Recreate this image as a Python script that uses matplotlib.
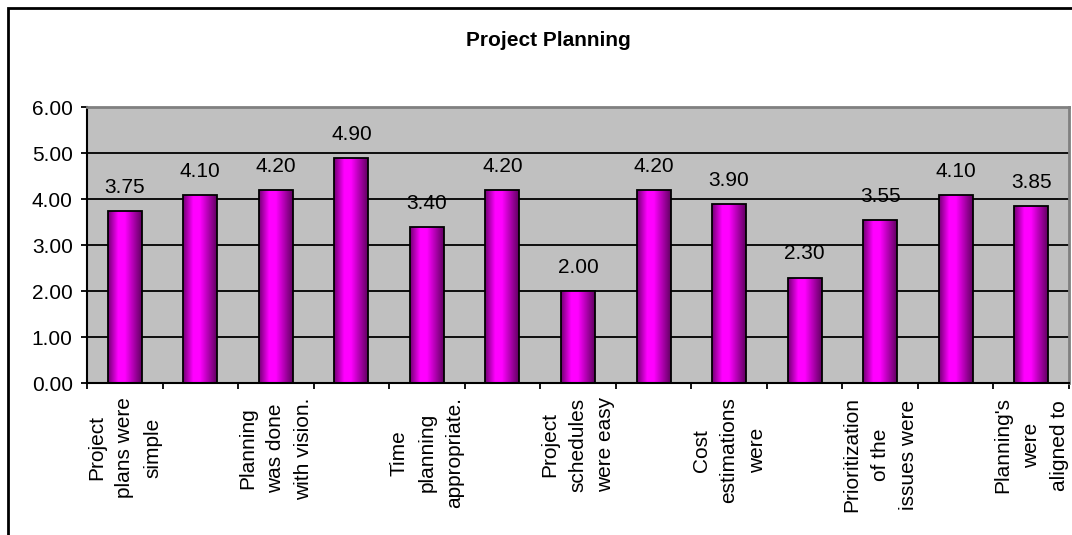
import matplotlib
matplotlib.use('Agg')
import matplotlib.pyplot as plt
import numpy as np
from matplotlib.colors import LinearSegmentedColormap
from matplotlib.patches import Rectangle
from matplotlib.ticker import NullFormatter

title = "Project Planning"
values = [3.75, 4.10, 4.20, 4.90, 3.40, 4.20, 2.00, 4.20, 3.90, 2.30, 3.55, 4.10, 3.85]
shown_labels = [
    "Project\nplans were\nsimple",
    "Planning\nwas done\nwith vision.",
    "Time\nplanning\nappropriate.",
    "Project\nschedules\nwere easy",
    "Cost\nestimations\nwere",
    "Prioritization\nof the\nissues were",
    "Planning's\nwere\naligned to",
]
y_ticks = [0, 1, 2, 3, 4, 5, 6]

plt.rcParams['font.family'] = ['Liberation Sans', 'DejaVu Sans']

W, H = 1072, 535
fig = plt.figure(figsize=(W / 100, H / 100), dpi=100)
fig.patch.set_facecolor('white')

ax_left, ax_right, ax_top, ax_bottom = 87, 1069, 107.3, 383.3
ax = fig.add_axes([ax_left / W, (H - ax_bottom) / H, (ax_right - ax_left) / W, (ax_bottom - ax_top) / H])
ax.set_facecolor('#c0c0c0')

x = np.arange(len(values))
bars = ax.bar(x, values, width=0.45, color='none', edgecolor='black', linewidth=1.3, zorder=3)

cmap = LinearSegmentedColormap.from_list(
    'bar', [(0.0, '#700070'), (0.3, '#ff00ff'), (0.5, '#ff00ff'), (1.0, '#600060')])
grad = np.linspace(0, 1, 256).reshape(1, -1)
for b in bars:
    im = ax.imshow(grad, cmap=cmap, aspect='auto', interpolation='bilinear',
                   extent=(b.get_x(), b.get_x() + b.get_width(), 0, b.get_height()), zorder=2.5)
    im.set_clip_path(b)

for b, v in zip(bars, values):
    ax.annotate(f'{v:.2f}', (b.get_x() + b.get_width() / 2, v), xytext=(0, 13),
                textcoords='offset points', ha='center', va='baseline', fontsize=15, color='black')

ax.set_xlim(-0.5, len(values) - 0.5)
ax.set_ylim(0, 6)
ax.set_yticks(y_ticks, labels=[f'{v:.2f}' for v in y_ticks])
ax.yaxis.grid(True, color='black', linewidth=1.3)
ax.set_axisbelow(True)

ax.set_xticks(np.arange(-0.5, len(values), 1))
ax.xaxis.set_major_formatter(NullFormatter())
ax.set_xticks(x[::2], labels=shown_labels, minor=True, rotation=90,
              multialignment='center', linespacing=1.6, fontsize=15)

ax.tick_params(axis='x', which='major', length=4.3, width=1.3, direction='out', color='black')
ax.tick_params(axis='x', which='minor', length=0, pad=10)
ax.tick_params(axis='y', length=4.3, width=1.3, direction='out', labelsize=15, pad=6)

for s in ['left', 'bottom']:
    ax.spines[s].set_color('black')
    ax.spines[s].set_linewidth(1.5)
for s in ['top', 'right']:
    ax.spines[s].set_color('#808080')
    ax.spines[s].set_linewidth(2)

fig.text(548 / W, 1 - 40 / H, title, ha='center', va='center', fontweight='bold', fontsize=15)

fig.add_artist(Rectangle((8 / W, -0.1), 1.2, (H - 8) / H + 0.1, transform=fig.transFigure,
                         fill=False, edgecolor='black', linewidth=2, clip_on=False))

fig.savefig('out.png', dpi=100)
